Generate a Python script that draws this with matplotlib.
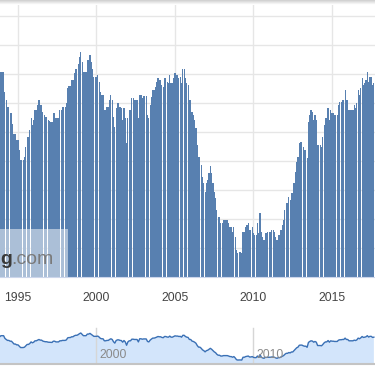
import numpy as np
import matplotlib.pyplot as plt
from matplotlib.patches import Rectangle
import matplotlib.transforms as mtransforms

plt.rcParams['font.family'] = ['Liberation Sans', 'DejaVu Sans']

# monthly series, Oct 1993 .. Sep 2017
start_year = 1993.75
values = [
    67.9, 67.9, 70.7,                                                              # 1993
    70.7, 70.7, 63.8, 61.0, 58.6, 58.6, 56.6, 56.6, 52.8, 49.3, 49.3, 47.2,        # 1994
    47.2, 43.8, 40.3, 40.3, 40.3, 41.4, 44.8, 48.3, 48.3, 50.7, 54.8, 52.4,        # 1995
    54.1, 57.6, 57.6, 59.3, 61.0, 59.3, 59.3, 56.9, 55.9, 55.2, 55.2, 54.1,        # 1996
    53.8, 53.4, 53.4, 56.6, 56.6, 54.8, 54.8, 54.8, 57.6, 57.6, 58.6, 58.6,        # 1997
    58.6, 60.0, 65.2, 65.9, 65.9, 67.9, 67.9, 70.3, 71.7, 71.7, 73.4, 75.9,        # 1998
    77.6, 74.1, 70.7, 70.7, 70.7, 74.8, 74.8, 76.6, 74.1, 71.7, 69.0, 69.0,        # 1999
    69.0, 69.7, 67.2, 63.8, 62.8, 62.8, 57.6, 57.6, 58.6, 58.6, 61.0, 62.8,        # 2000
    61.0, 55.2, 51.7, 58.3, 60.0, 60.0, 58.6, 58.3, 54.1, 58.3, 54.8, 46.2,        # 2001
    54.8, 57.6, 57.6, 61.7, 61.7, 61.0, 61.0, 61.0, 54.8, 62.8, 62.8, 61.7,        # 2002
    62.4, 62.4, 62.4, 55.9, 54.8, 59.3, 62.1, 64.5, 64.5, 65.5, 67.2, 68.6,        # 2003
    67.9, 67.9, 66.2, 65.5, 68.6, 68.6, 67.2, 66.9, 69.7, 66.9, 66.9, 68.6,        # 2004
    70.3, 69.7, 69.7, 68.6, 69.0, 66.9, 71.7, 71.7, 68.6, 66.9, 66.2, 61.0,        # 2005
    61.0, 56.9, 55.9, 54.1, 51.4, 45.5, 41.4, 41.4, 38.6, 34.5, 32.4, 29.3,        # 2006
    32.4, 33.4, 35.9, 38.3, 35.9, 32.4, 29.3, 27.2, 23.1, 20.7, 20.7, 18.6,        # 2007
    18.6, 19.7, 19.7, 19.7, 19.7, 18.6, 17.2, 17.2, 15.5, 17.2, 13.8, 9.3,         # 2008
    8.3, 8.6, 8.6, 8.3, 15.5, 15.5, 17.2, 17.9, 18.6, 16.2, 16.2, 17.2,            # 2009
    15.2, 14.5, 14.5, 18.6, 15.2, 22.1, 15.5, 13.8, 12.8, 15.2, 15.2, 15.5,        # 2010
    15.5, 15.5, 16.2, 16.2, 15.5, 13.8, 12.8, 14.5, 14.5, 16.2, 17.9, 19.7,        # 2011
    23.1, 25.5, 25.5, 27.6, 26.6, 29.0, 29.0, 32.4, 36.2, 39.7, 41.4, 46.2,        # 2012
    46.6, 46.6, 44.8, 43.8, 43.8, 41.0, 53.4, 55.9, 57.6, 56.9, 54.1, 55.9,        # 2013
    54.1, 45.5, 45.5, 45.5, 44.8, 48.3, 52.4, 54.8, 54.8, 58.3, 54.1, 57.6,        # 2014
    56.6, 56.6, 55.9, 55.9, 55.9, 59.3, 60.3, 60.3, 61.0, 61.0, 64.5, 61.0,        # 2015
    61.0, 57.6, 57.6, 57.6, 57.6, 59.3, 58.3, 60.0, 64.5, 62.8, 65.2, 68.6,        # 2016
    66.2, 66.9, 67.9, 70.7, 67.2, 69.0, 69.0, 66.2, 66.9,                          # 2017
]
years = start_year + np.arange(len(values)) / 12

tick_years = [1995, 2000, 2005, 2010, 2015]
nav_years = [2000, 2010]
x_range = (1993.854, 2017.739)

W, H = 375, 366


def px_rect(x0, y0, x1, y1):
    # pixel box (top-left origin) -> figure fraction
    return [x0 / W, 1 - y1 / H, (x1 - x0) / W, (y1 - y0) / H]


fig = plt.figure(figsize=(3.75, 3.66), dpi=100)

# main bar chart
ax = fig.add_axes(px_rect(0, 0, 375, 277))
ax.bar(years, values, width=0.88 / 12, color='#5880b0', linewidth=0, zorder=2)
ax.set_xlim(*x_range)
ax.set_ylim(0, 95.5)
ax.set_yticks(np.arange(10, 100, 10))
ax.set_xticks(tick_years)
ax.grid(color='#e6e6e6', linewidth=1)
ax.set_axisbelow(True)
for s in ax.spines.values():
    s.set_visible(False)
ax.spines['bottom'].set_visible(True)
ax.spines['bottom'].set_color('#ccd6eb')
ax.spines['bottom'].set_zorder(3)
ax.tick_params(length=0, labelleft=False, labelsize=8.8, labelcolor='#444444', pad=10.5)

# watermark box
ax.add_patch(Rectangle((0, 0), 68 / 375, 48 / 277, transform=ax.transAxes,
                       facecolor='white', alpha=0.5, linewidth=0, zorder=3))
ax.text(0 / 375, 13 / 277, 'g', transform=ax.transAxes, fontsize=14,
        fontweight='bold', color='#3a3a3a', ha='left', va='baseline', zorder=4)
ax.text(11 / 375, 13 / 277, '.com', transform=ax.transAxes, fontsize=14,
        color='#7a7a7a', ha='left', va='baseline', zorder=4)

# thin shadow at the top edge
top = fig.add_axes(px_rect(0, 0, 375, 5))
top.imshow(np.linspace(0.82, 1.0, 6)[:, None], aspect='auto', cmap='gray', vmin=0, vmax=1)
top.axis('off')

# navigator
nav = fig.add_axes(px_rect(0, 326, 375, 364))
nav.fill_between(years, values, -10, color='#d3e5fb', linewidth=0, zorder=1)
nav.plot(years, values, color='#3a70b5', linewidth=1, zorder=3)
nav.set_xlim(*x_range)
nav.set_ylim(-1.8, 95.5)
trans = mtransforms.blended_transform_factory(nav.transData, nav.transAxes)
for yr in nav_years:
    nav.axvline(yr, ymin=0.05, ymax=0.95, color='#d6d6d6', linewidth=1, zorder=2)
    nav.text(yr + 0.2, 0.16, str(yr), transform=trans, fontsize=8.8,
             color='#8a8a8a', ha='left', va='baseline', zorder=4)
for s in nav.spines.values():
    s.set_visible(False)
nav.spines['bottom'].set_visible(True)
nav.spines['bottom'].set_color('#c4c4c4')
nav.spines['bottom'].set_linewidth(1.5)
nav.set_xticks([])
nav.set_yticks([])

plt.savefig('out.png', dpi=100)
